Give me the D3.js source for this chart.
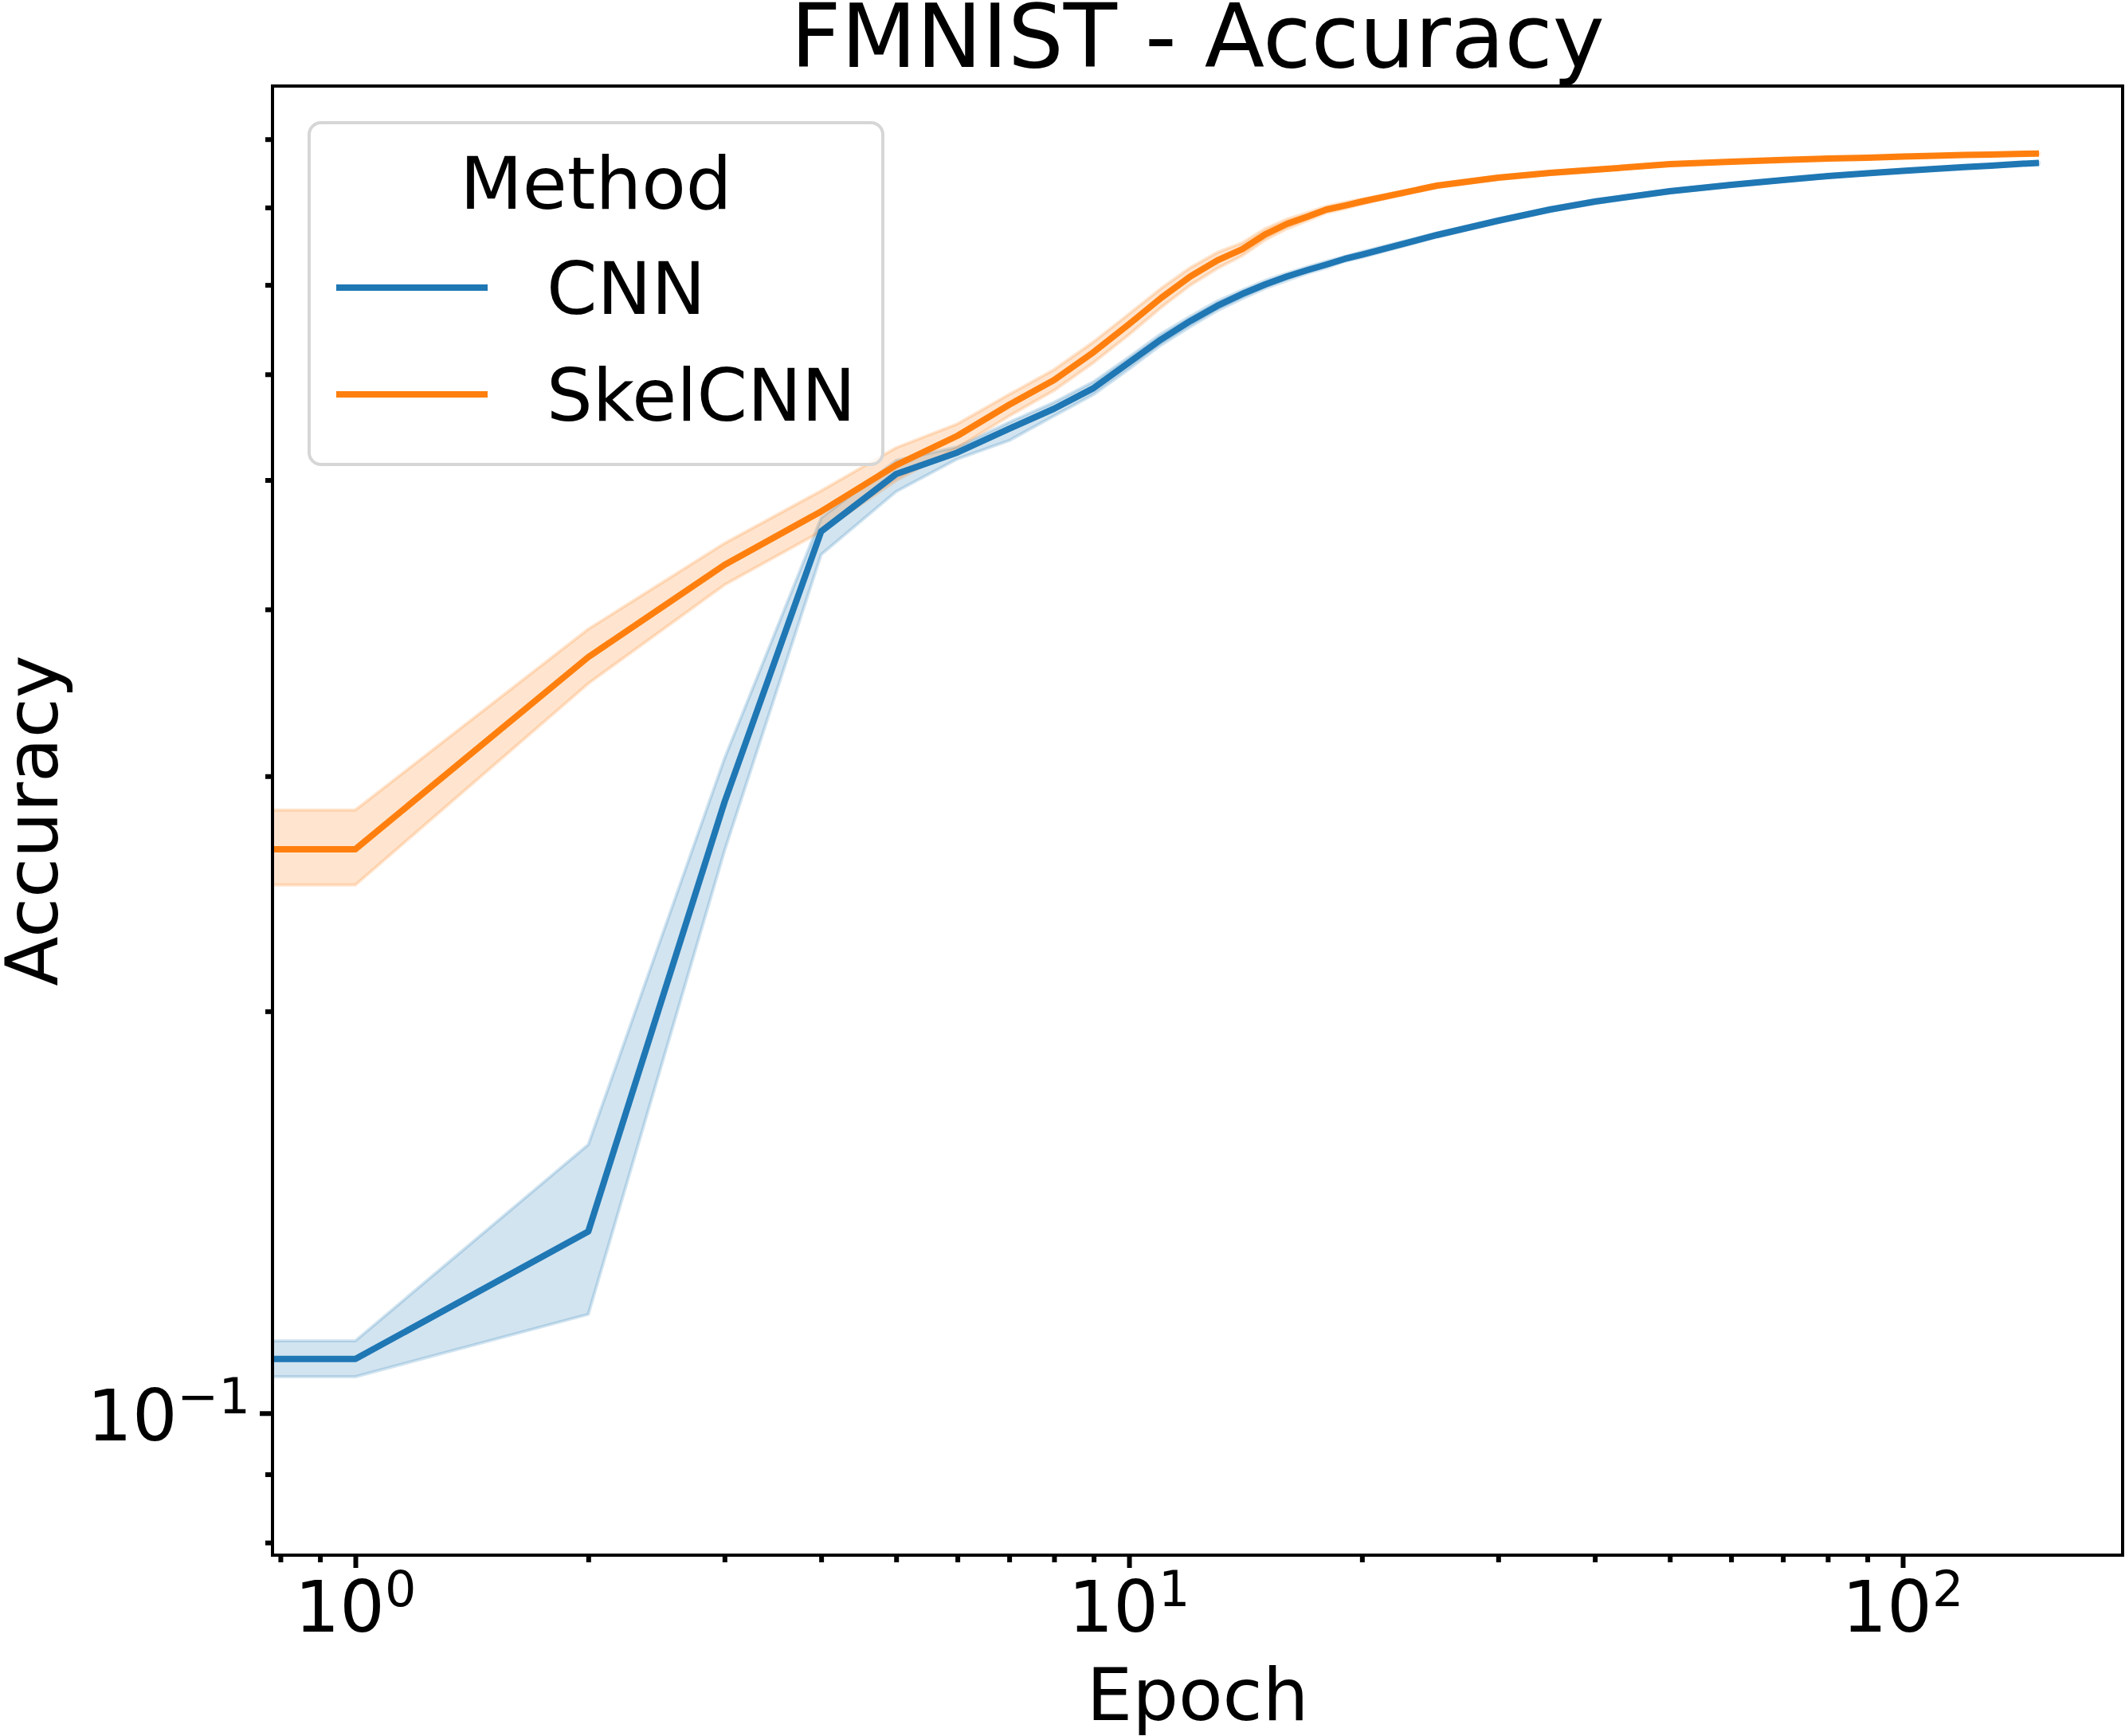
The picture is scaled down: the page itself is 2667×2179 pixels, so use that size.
<!DOCTYPE html>
<html>
<head>
<meta charset="utf-8">
<script src="https://cdn.jsdelivr.net/npm/d3@7"></script>
<style>
  html, body { margin: 0; padding: 0; background: #ffffff; }
  svg { display: block; font-family: "DejaVu Sans", sans-serif; }
</style>
</head>
<body>
<svg id="chart" width="2667" height="2179"></svg>
<script>
// ---------------- data ----------------
// epoch 0 is drawn at the left edge of the log axis (as in the original, where it is clipped)
const epochs = [0, 1, 2, 3, 4, 5, 6, 7, 8, 9, 10, 11, 12, 13, 14, 15, 16, 17, 18, 19, 20,
                25, 30, 35, 40, 50, 60, 70, 80, 90, 100, 110, 120, 130, 140, 150];

const methods = ["CNN", "SkelCNN"];
const colors = ["#1f77b4", "#ff7f0e"];

const cnnMean = [0.1098, 0.1098, 0.1368, 0.2869, 0.4576, 0.5052, 0.5243, 0.5463, 0.5654, 0.5859, 0.6123,
                 0.6372, 0.6577, 0.6751, 0.6891, 0.7006, 0.7103, 0.7181, 0.7251, 0.7321, 0.7376,
                 0.7629, 0.7820, 0.7972, 0.8082, 0.8227, 0.8318, 0.8387, 0.8445, 0.8485, 0.8521,
                 0.8550, 0.8576, 0.8599, 0.8621, 0.8640];
const cnnUpper = [0.1133, 0.1133, 0.1589, 0.3093, 0.4684, 0.5171, 0.5293, 0.5523, 0.5716, 0.5924, 0.6182,
                  0.6434, 0.6632, 0.6807, 0.6939, 0.7054, 0.7142, 0.7221, 0.7291, 0.7351, 0.7412,
                  0.7656, 0.7846, 0.7997, 0.8106, 0.8249, 0.8338, 0.8406, 0.8463, 0.8502, 0.8537,
                  0.8565, 0.8590, 0.8612, 0.8633, 0.8652];
const cnnLower = [0.1065, 0.1065, 0.1186, 0.2638, 0.4397, 0.4901, 0.5185, 0.5352, 0.5584, 0.5795, 0.6056,
                  0.6311, 0.6514, 0.6696, 0.6835, 0.6958, 0.7054, 0.7142, 0.7211, 0.7291, 0.7341,
                  0.7602, 0.7794, 0.7947, 0.8058, 0.8205, 0.8298, 0.8368, 0.8427, 0.8468, 0.8505,
                  0.8535, 0.8562, 0.8586, 0.8609, 0.8628];

const skelMean = [0.2645, 0.2645, 0.3684, 0.4319, 0.4736, 0.5129, 0.5396, 0.5693, 0.5941, 0.6234, 0.6541,
                  0.6844, 0.7103, 0.7301, 0.7443, 0.7639, 0.7777, 0.7873, 0.7972, 0.8026, 0.8082,
                  0.8307, 0.8422, 0.8491, 0.8538, 0.8621, 0.8656, 0.8684, 0.8704, 0.8718, 0.8734,
                  0.8748, 0.8758, 0.8766, 0.8774, 0.8780];
const skelUpper = [0.2830, 0.2830, 0.3866, 0.4483, 0.4908, 0.5286, 0.5508, 0.5795, 0.6048, 0.6346, 0.6659,
                   0.6958, 0.7211, 0.7402, 0.7525, 0.7713, 0.7841, 0.7928, 0.8016, 0.8071, 0.8115,
                   0.8330, 0.8444, 0.8512, 0.8558, 0.8639, 0.8673, 0.8700, 0.8719, 0.8732, 0.8747,
                   0.8760, 0.8769, 0.8776, 0.8783, 0.8789];
const skelLower = [0.2487, 0.2487, 0.3520, 0.4173, 0.4576, 0.4996, 0.5286, 0.5584, 0.5835, 0.6123, 0.6425,
                   0.6733, 0.6996, 0.7201, 0.7361, 0.7566, 0.7713, 0.7820, 0.7928, 0.7983, 0.8049,
                   0.8284, 0.8400, 0.8470, 0.8518, 0.8603, 0.8639, 0.8668, 0.8689, 0.8704, 0.8721,
                   0.8736, 0.8747, 0.8756, 0.8765, 0.8771];

const xMajorTicks = [1, 10, 100];
const xTickBase = ["10", "10", "10"];
const xTickExp = ["0", "1", "2"];
const xMinorTicks = [0.8, 0.9, 2, 3, 4, 5, 6, 7, 8, 9, 20, 30, 40, 50, 60, 70, 80, 90];

const yMajorTicks = [0.1];
const yTickBase = ["10"];
const yTickExp = ["\u22121"];
const yMinorTicks = [0.08, 0.09, 0.2, 0.3, 0.4, 0.5, 0.6, 0.7, 0.8, 0.9];

const titleText = "FMNIST - Accuracy";
const xLabelText = "Epoch";
const yLabelText = "Accuracy";
const legendTitle = "Method";

// ---------------- layout ----------------
const L = 342, R = 2664, T = 108, B = 1952;
const svg = d3.select("#chart");

const x = d3.scaleLog().domain([0.7814, 192.4]).range([L, R]).clamp(true);
const y = d3.scaleLog().domain([0.07828, 0.9864]).range([B, T]);

svg.append("defs").append("clipPath").attr("id", "plotclip")
  .append("rect").attr("x", L).attr("y", T).attr("width", R - L).attr("height", B - T);

const series = [
  { name: methods[0], color: colors[0], mean: cnnMean, lo: cnnLower, hi: cnnUpper },
  { name: methods[1], color: colors[1], mean: skelMean, lo: skelLower, hi: skelUpper }
];

const plot = svg.append("g").attr("clip-path", "url(#plotclip)");

const area = d3.area()
  .x((d, i) => x(epochs[i]))
  .y0(d => y(d[0]))
  .y1(d => y(d[1]));
const line = d3.line()
  .x((d, i) => x(epochs[i]))
  .y(d => y(d));

// bands first (below all lines)
series.forEach(s => {
  const pts = s.lo.map((v, i) => [v, s.hi[i]]);
  plot.append("path")
    .attr("d", area(pts))
    .attr("fill", s.color).attr("fill-opacity", 0.2)
    .attr("stroke", s.color).attr("stroke-opacity", 0.2).attr("stroke-width", 4)
    .attr("stroke-linejoin", "round");
});
series.forEach(s => {
  plot.append("path")
    .attr("d", line(s.mean))
    .attr("fill", "none")
    .attr("stroke", s.color).attr("stroke-width", 8)
    .attr("stroke-linejoin", "round").attr("stroke-linecap", "butt");
});

// ---------------- axes ----------------
function styleAxis(g, w) {
  g.select(".domain").remove();
  g.selectAll(".tick line").attr("stroke", "#000").attr("stroke-width", w);
  g.selectAll(".tick text").remove();
}
svg.append("g").attr("transform", `translate(0,${B})`)
  .call(d3.axisBottom(x).tickValues(xMajorTicks).tickSize(16).tickFormat(() => ""))
  .call(g => styleAxis(g, 6));
svg.append("g").attr("transform", `translate(0,${B})`)
  .call(d3.axisBottom(x).tickValues(xMinorTicks).tickSize(9).tickFormat(() => ""))
  .call(g => styleAxis(g, 6));
svg.append("g").attr("transform", `translate(${L},0)`)
  .call(d3.axisLeft(y).tickValues(yMajorTicks).tickSize(16).tickFormat(() => ""))
  .call(g => styleAxis(g, 6));
svg.append("g").attr("transform", `translate(${L},0)`)
  .call(d3.axisLeft(y).tickValues(yMinorTicks).tickSize(9).tickFormat(() => ""))
  .call(g => styleAxis(g, 6));

// spines
svg.append("rect").attr("x", L).attr("y", T).attr("width", R - L).attr("height", B - T)
  .attr("fill", "none").attr("stroke", "#000").attr("stroke-width", 4);

// tick labels with superscripts
xMajorTicks.forEach((v, i) => {
  const t = svg.append("text").attr("x", x(v)).attr("y", 2048)
    .attr("text-anchor", "middle").attr("font-size", 89).attr("fill", "#000");
  t.append("tspan").text(xTickBase[i]);
  t.append("tspan").attr("dy", -32).attr("font-size", 62).text(xTickExp[i]);
});
yMajorTicks.forEach((v, i) => {
  const t = svg.append("text").attr("x", 314).attr("y", y(v) + 34)
    .attr("text-anchor", "end").attr("font-size", 89).attr("fill", "#000");
  t.append("tspan").text(yTickBase[i]);
  t.append("tspan").attr("dy", -34).attr("font-size", 62).text(yTickExp[i]);
});

// axis labels and title
svg.append("text").attr("x", (L + R) / 2).attr("y", 2159)
  .attr("text-anchor", "middle").attr("font-size", 91).text(xLabelText);
svg.append("text").attr("transform", `translate(72,${(T + B) / 2}) rotate(-90)`)
  .attr("text-anchor", "middle").attr("font-size", 91).text(yLabelText);
svg.append("text").attr("x", (L + R) / 2).attr("y", 84)
  .attr("text-anchor", "middle").attr("font-size", 110).text(titleText);

// ---------------- legend ----------------
const lg = svg.append("g");
lg.append("rect").attr("x", 388).attr("y", 154).attr("width", 720).attr("height", 429)
  .attr("rx", 15).attr("ry", 15)
  .attr("fill", "#fff").attr("fill-opacity", 0.8)
  .attr("stroke", "#d6d6d6").attr("stroke-width", 4);
lg.append("text").attr("x", 748).attr("y", 262).attr("text-anchor", "middle")
  .attr("font-size", 91).text(legendTitle);
const rowY = [361, 495];
series.forEach((s, i) => {
  lg.append("line").attr("x1", 422).attr("x2", 612).attr("y1", rowY[i]).attr("y2", rowY[i])
    .attr("stroke", s.color).attr("stroke-width", 8);
  lg.append("text").attr("x", 686).attr("y", rowY[i] + 33)
    .attr("font-size", 91).text(s.name);
});
</script>
</body>
</html>
